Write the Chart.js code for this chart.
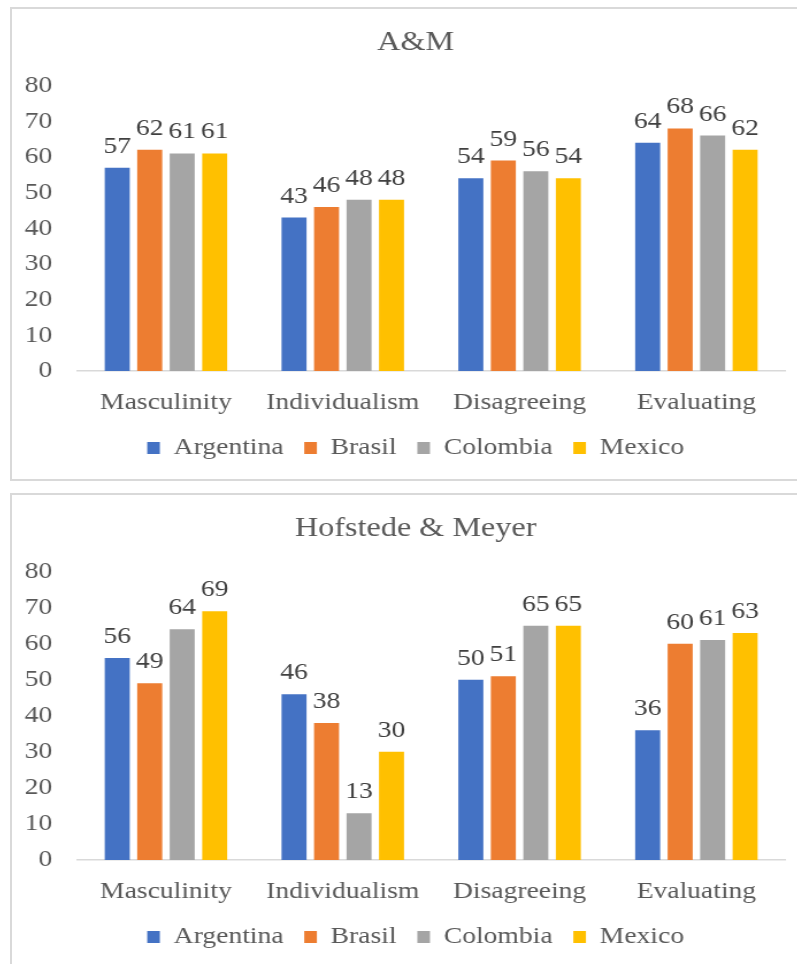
<!DOCTYPE html>
<html>
<head>
<meta charset="utf-8">
<title>A&amp;M / Hofstede &amp; Meyer</title>
<script src="https://cdn.jsdelivr.net/npm/chart.js@4.4.1/dist/chart.umd.min.js"></script>
<style>
    html, body { margin: 0; padding: 0; background: #fff; overflow: hidden; }
    .panel {
        position: absolute;
        left: 10px;
        width: 820px;
        border: 2px solid #d9d9d9;
        background: #fff;
        overflow: hidden;
    }
    #panel-am { top: 7px; height: 470px; }
    #panel-hm { top: 493px; height: 490px; }
    /* charts are laid out narrow and widened to the panel */
    .panel canvas {
        position: absolute;
        left: 0;
        top: 0;
        transform: scaleX(1.15);
        transform-origin: 0 0;
    }
</style>
</head>
<body>
<div class="panel" id="panel-am"><canvas id="chart-am" width="700" height="470"></canvas></div>
<div class="panel" id="panel-hm"><canvas id="chart-hm" width="700" height="473"></canvas></div>

<script>
const categories = ['Masculinity', 'Individualism', 'Disagreeing', 'Evaluating'];
const countries = ['Argentina', 'Brasil', 'Colombia', 'Mexico'];
const countryColors = ['#4472C4', '#ED7D31', '#A5A5A5', '#FFC000'];

// A&M scores
const amArgentina = [57, 43, 54, 64];
const amBrasil = [62, 46, 59, 68];
const amColombia = [61, 48, 56, 66];
const amMexico = [61, 48, 54, 62];

// Hofstede & Meyer scores
const hmArgentina = [56, 46, 50, 36];
const hmBrasil = [49, 38, 51, 60];
const hmColombia = [64, 13, 65, 61];
const hmMexico = [69, 30, 65, 63];

const yMin = 0;
const yMax = 80;
const yStep = 10;

const FONT = "'Liberation Serif', 'Times New Roman', serif";
const TEXT = '#595959';

Chart.defaults.font.family = FONT;
Chart.defaults.color = TEXT;

// value printed above each bar
const barValueLabels = {
    id: 'barValueLabels',
    afterDatasetsDraw(chart) {
        const ctx = chart.ctx;
        ctx.save();
        ctx.font = `24px ${FONT}`;
        ctx.fillStyle = '#404040';
        ctx.textAlign = 'center';
        ctx.textBaseline = 'alphabetic';
        chart.data.datasets.forEach((ds, i) => {
            chart.getDatasetMeta(i).data.forEach((bar, j) => {
                ctx.fillText(ds.data[j], bar.x, bar.y - 15);
            });
        });
        ctx.restore();
    }
};

function buildChart(canvasId, title, series) {
    const ctx = document.getElementById(canvasId).getContext('2d');
    return new Chart(ctx, {
        type: 'bar',
        data: {
            labels: categories,
            datasets: series.map((values, i) => ({
                label: countries[i],
                data: values,
                backgroundColor: countryColors[i],
                borderWidth: 0,
                categoryPercentage: 0.735,
                barPercentage: 0.77
            }))
        },
        options: {
            responsive: false,
            animation: false,
            devicePixelRatio: 1,
            layout: { padding: { left: 30, right: 28, top: 0, bottom: 9 } },
            plugins: {
                title: {
                    display: true,
                    text: title,
                    color: TEXT,
                    font: { size: 28, weight: 'normal' },
                    padding: { top: 17, bottom: 26 }
                },
                legend: {
                    position: 'bottom',
                    labels: {
                        boxWidth: 11,
                        boxHeight: 12,
                        padding: 18,
                        color: TEXT,
                        font: { size: 24 }
                    }
                },
                tooltip: { enabled: false }
            },
            scales: {
                x: {
                    grid: { display: false, drawTicks: false },
                    border: { display: true, color: '#d9d9d9', width: 1.5 },
                    ticks: {
                        color: TEXT,
                        font: { size: 24 },
                        padding: 17.5,
                        maxRotation: 0,
                        autoSkip: false
                    },
                    afterFit(scale) {
                        scale.height = 47;
                    }
                },
                y: {
                    min: yMin,
                    max: yMax,
                    grid: { display: false, drawTicks: false },
                    border: { display: false },
                    ticks: {
                        stepSize: yStep,
                        color: TEXT,
                        font: { size: 24 },
                        // labels sit left of the axis, right-aligned
                        mirror: true,
                        crossAlign: 'far',
                        padding: -46
                    },
                    afterFit(scale) {
                        scale.width = 27;
                    }
                }
            }
        },
        plugins: [barValueLabels]
    });
}

buildChart('chart-am', 'A&M', [amArgentina, amBrasil, amColombia, amMexico]);
buildChart('chart-hm', 'Hofstede & Meyer', [hmArgentina, hmBrasil, hmColombia, hmMexico]);
</script>
</body>
</html>
